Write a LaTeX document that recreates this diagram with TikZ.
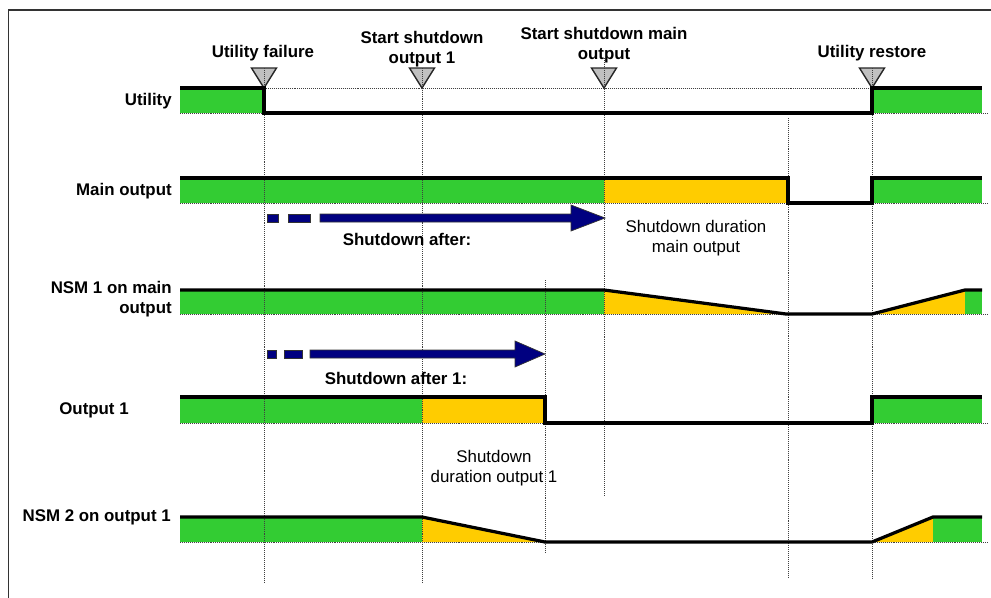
\documentclass[tikz,border=0pt]{standalone}
\usepackage{fontspec}
\setsansfont{Liberation Sans}
\usetikzlibrary{calc}

\definecolor{upgreen}{HTML}{33CC33}
\definecolor{downyellow}{HTML}{FFCC00}
\definecolor{arrownavy}{HTML}{000080}
\definecolor{markgray}{HTML}{C0C0C0}

\begin{document}
\begin{tikzpicture}[
  x=0.25mm, y=-0.25mm,
  font=\sffamily\fontsize{12}{14.2}\selectfont,
  event/.style={font=\sffamily\bfseries\fontsize{12}{14.2}\selectfont, align=center, inner sep=0pt, anchor=base},
  rowlabel/.style={font=\sffamily\bfseries\fontsize{12}{14.2}\selectfont, align=right, inner sep=0pt, anchor=base east},
  note/.style={align=center, inner sep=0pt, anchor=base},
  level/.style={line width=2.3pt},
  guide/.style={line width=0.7pt, black!75, dash pattern=on 0.7pt off 0.7pt},
  marker/.style={fill=markgray, draw=black!85, line width=1pt},
  upfill/.style={fill=upgreen},
  downfill/.style={fill=downyellow},
  blockarrow/.style={fill=arrownavy, draw=black!80, line width=0.5pt}
]
\useasboundingbox (0,0) rectangle (991,598);
\draw[line width=1pt, black!80] (991,10) -- (8.5,10) -- (8.5,598);

% signal fills
\fill[upfill] (180,88) rectangle (264,113);
\fill[upfill] (872,88) rectangle (982,113);

\fill[upfill] (180,178) rectangle (604,203);
\fill[downfill] (604,178) rectangle (788,203);
\fill[upfill] (872,178) rectangle (982,203);

\fill[upfill] (180,290) rectangle (604,314);
\fill[downfill] (604,290) -- (786,314) -- (604,314) -- cycle;
\fill[downfill] (872,314) -- (965,290) -- (965,314) -- cycle;
\fill[upfill] (965,290) rectangle (982,314);

\fill[upfill] (180,397) rectangle (422,423);
\fill[downfill] (422,397) rectangle (545,423);
\fill[upfill] (872,397) rectangle (982,423);

\fill[upfill] (180,517) rectangle (422,542);
\fill[downfill] (422,517) -- (545,542) -- (422,542) -- cycle;
\fill[downfill] (872,542) -- (933,517) -- (933,542) -- cycle;
\fill[upfill] (933,517) rectangle (982,542);

% event markers
\foreach \x in {264,422,604,872}
  \draw[marker] (\x-12.5,68) -- (\x+12.5,68) -- (\x,88) -- cycle;

% guide lines
\foreach \y in {113,203,314,423,542}
  \draw[guide] (180,\y) -- (987,\y);
\draw[guide] (264,88) -- (872,88);
\foreach \x/\a/\b in {264/68/582,422/68/582,604/58/495,545/280/553,788/118/578,872/68/578}
  \draw[guide] (\x,\a) -- (\x,\b);

% signal levels
\draw[level] (180,88) -- (264,88) -- (264,113) -- (872,113) -- (872,88) -- (982,88);
\draw[level] (180,178) -- (788,178) -- (788,203) -- (872,203) -- (872,178) -- (982,178);
\draw[level] (180,290) -- (604,290) -- (786,314) -- (872,314) -- (965,290) -- (982,290);
\draw[level] (180,397) -- (545,397) -- (545,423) -- (872,423) -- (872,397) -- (982,397);
\draw[level] (180,517) -- (422,517) -- (545,542) -- (872,542) -- (933,517) -- (982,517);

% shutdown delay arrows
\draw[blockarrow] (267,214) rectangle (278,222);
\draw[blockarrow] (288,214) rectangle (310,222);
\draw[blockarrow] (320,214) -- (571,214) -- (571,205) -- (605,218) -- (571,231) -- (571,222) -- (320,222) -- cycle;

\draw[blockarrow] (267,350) rectangle (276,358);
\draw[blockarrow] (284,350) rectangle (302,358);
\draw[blockarrow] (310,350) -- (515,350) -- (515,341) -- (545,354) -- (515,367) -- (515,358) -- (310,358) -- cycle;

% labels
\node[event] (failure) at (263,57) {Utility failure};
\node[event] (startout1) at (422,63) {Start shutdown\\output 1};
\node[event] (startmain) at (604,59) {Start shutdown main\\output};
\node[event] (restore) at (872,57) {Utility restore};

\node[rowlabel] (utility) at (172,105) {Utility};
\node[rowlabel] (mainout) at (172,195) {Main output};
\node[rowlabel] (nsm1) at (172,313) {NSM 1 on main\\output};
\node[rowlabel, anchor=base] (out1) at (94,414) {Output 1};
\node[rowlabel] (nsm2) at (171,521) {NSM 2 on output 1};

\node[event] (after) at (407,245) {Shutdown after:};
\node[event] (after1) at (396,384) {Shutdown after 1:};

\node[note] (durmain) at (696,252.5) {Shutdown duration\\main output};
\node[note] (dur1) at (494,482.7) {Shutdown\\duration output 1};

\end{tikzpicture}
\end{document}
